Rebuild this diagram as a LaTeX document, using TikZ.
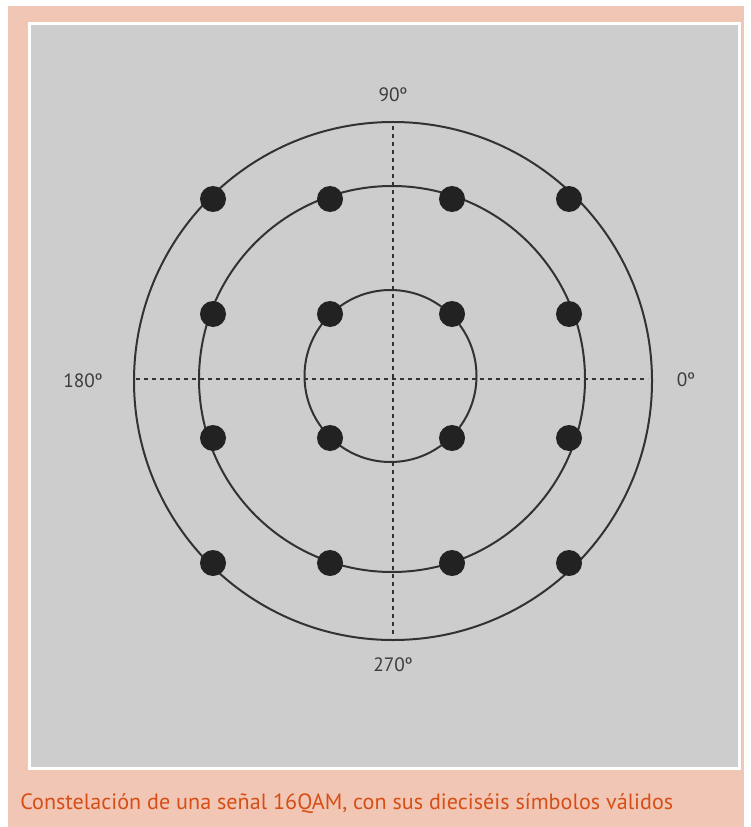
\documentclass[tikz,border=0pt]{standalone}
\usepackage{fontspec}
\setmainfont{PT Sans}
\usepackage{xcolor}
\definecolor{pinkbg}{RGB}{242,198,180}
\definecolor{panelgray}{RGB}{205,205,205}
\definecolor{ringgray}{RGB}{50,50,50}
\definecolor{dotblack}{RGB}{34,34,34}
\definecolor{labelgray}{RGB}{60,60,60}
\definecolor{captionred}{RGB}{214,78,22}
\usetikzlibrary{positioning}

\begin{document}
\begin{tikzpicture}[x=0.75pt,y=-0.75pt,
  ring/.style={draw=ringgray,line width=1.5pt},
  axis/.style={draw=ringgray,line width=1.6pt,dash pattern=on 3pt off 3pt},
  sym/.style={circle,fill=dotblack,inner sep=0pt,minimum size=19.5pt},
  deg/.style={font=\fontsize{14.5}{17}\selectfont,text=labelgray,inner sep=0pt}]
  \useasboundingbox (0,0) rectangle (750,827);
  % frame and panel
  \fill[pinkbg] (8,6) rectangle (744,827);
  \fill[white] (28,22) rectangle (741,770);
  \fill[panelgray] (31,25) rectangle (738,767);
  % rings
  \coordinate (c) at (392,379);
  \draw[ring] (393,381) circle[radius=259];
  \draw[ring] (c) circle[radius=193];
  \draw[ring] (390.5,376) circle[radius=86];
  % axes
  \coordinate (east) at (648,379);\coordinate (west) at (136,379);
  \coordinate (north) at (393,126);\coordinate (south) at (393,637);
  \draw[axis] (west) -- (east);
  \draw[axis] (north) -- (south);
  % the sixteen symbols
  \foreach \y [count=\j] in {199,314,438,563}
    \foreach \x [count=\i] in {213,330,452,569}
      \node[sym] (s\j\i) at (\x,\y) {};
  % angle labels
  \node[deg] (d90) at (393,95) {90º};
  \node[deg] (d180) at (83,381) {180º};
  \node[deg] (d0) at (686,380) {0º};
  \node[deg] (d270) at (393,665) {270º};
  % caption
  \node[anchor=west,inner sep=0pt,text=captionred,font=\fontsize{16.6}{19}\selectfont]
    (cap) at (20,804) {Constelación de una señal 16QAM, con sus dieciséis símbolos válidos};
\end{tikzpicture}
\end{document}
